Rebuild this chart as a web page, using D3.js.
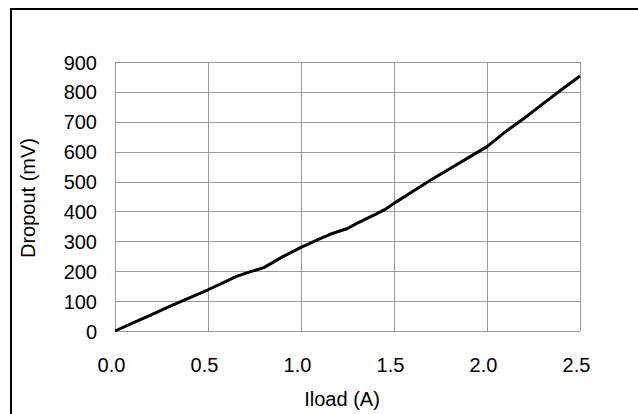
<!DOCTYPE html>
<html>
<head>
<meta charset="utf-8">
<script src="https://cdn.jsdelivr.net/npm/d3@7"></script>
<style>
  body { margin: 0; background: #fff; }
  text { font-family: "Liberation Sans", Arial, sans-serif; fill: #000; }
</style>
</head>
<body>
<svg id="chart"></svg>
<script>
// Dropout vs load current
var iload = [0, 0.1, 0.2, 0.3, 0.4, 0.5, 0.6, 0.65, 0.7, 0.8, 0.9, 1.0, 1.1, 1.15, 1.2, 1.25, 1.3, 1.4, 1.45, 1.5, 1.6, 1.7, 1.8, 1.9, 2.0, 2.1, 2.2, 2.3, 2.4, 2.5];
var dropout = [0, 28, 56, 84, 111, 138, 167, 182, 193, 212, 248, 280, 308, 322, 333, 343, 360, 390, 406, 427, 467, 506, 543, 580, 617, 667, 712, 760, 807, 853];
var xTicks = [0, 0.5, 1.0, 1.5, 2.0, 2.5];
var yTicks = [0, 100, 200, 300, 400, 500, 600, 700, 800, 900];

var W = 638, H = 414;
var m = { left: 115, right: 58, top: 62, bottom: 83 };
var w = W - m.left - m.right;
var h = H - m.top - m.bottom;

var svg = d3.select("#chart").attr("width", W).attr("height", H);

// outer frame (runs off the right and bottom edge)
svg.append("rect")
    .attr("x", 11).attr("y", 9)
    .attr("width", 700).attr("height", 500)
    .attr("fill", "none").attr("stroke", "#000").attr("stroke-width", 2);

var x = d3.scaleLinear().domain([0, 2.5]).range([0, w]);
var y = d3.scaleLinear().domain([0, 900]).range([h, 0]);

var g = svg.append("g").attr("transform", "translate(" + m.left + "," + m.top + ")");

// grid
g.selectAll(".hgrid").data(yTicks).enter().append("line")
    .attr("x1", 0).attr("x2", w)
    .attr("y1", function (d) { return Math.round(y(d)) + 0.5; })
    .attr("y2", function (d) { return Math.round(y(d)) + 0.5; })
    .attr("stroke", "#9a9a9a").attr("stroke-width", 1);
g.selectAll(".vgrid").data(xTicks).enter().append("line")
    .attr("y1", 0).attr("y2", h)
    .attr("x1", function (d) { return Math.round(x(d)) + 0.5; })
    .attr("x2", function (d) { return Math.round(x(d)) + 0.5; })
    .attr("stroke", "#9a9a9a").attr("stroke-width", 1);

// axes (labels only)
var xAxis = d3.axisBottom(x).tickValues(xTicks).tickFormat(d3.format(".1f")).tickSize(0).tickPadding(0);
var yAxis = d3.axisLeft(y).tickValues(yTicks).tickFormat(d3.format("d")).tickSize(0).tickPadding(0);

var gX = g.append("g").attr("transform", "translate(-4," + h + ")").call(xAxis);
gX.select(".domain").remove();
gX.selectAll("text")
    .attr("y", 41).attr("dy", 0)
    .style("font-size", "20px").style("font-family", "Liberation Sans, Arial, sans-serif");

var gY = g.append("g").attr("transform", "translate(-18,0)").call(yAxis);
gY.select(".domain").remove();
gY.selectAll("text")
    .attr("x", 0).attr("dy", "0.35em")
    .style("font-size", "20px").style("font-family", "Liberation Sans, Arial, sans-serif");

// data line
var line = d3.line()
    .x(function (d, i) { return x(iload[i]); })
    .y(function (d) { return y(d); });
g.append("path")
    .attr("d", line(dropout))
    .attr("fill", "none")
    .attr("stroke", "#000")
    .attr("stroke-width", 3)
    .attr("stroke-linejoin", "round");

// axis titles
svg.append("text")
    .attr("x", 342).attr("y", 406)
    .attr("text-anchor", "middle")
    .style("font-size", "20px")
    .text("Iload (A)");
svg.append("text")
    .attr("transform", "translate(35,198) rotate(-90)")
    .attr("text-anchor", "middle")
    .style("font-size", "20px")
    .text("Dropout (mV)");
</script>
</body>
</html>
